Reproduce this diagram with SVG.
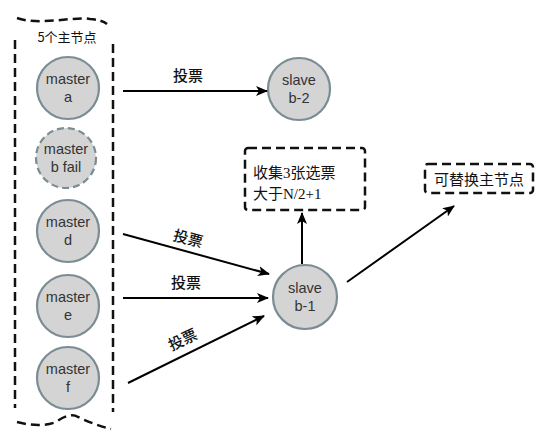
<svg xmlns="http://www.w3.org/2000/svg" width="551" height="440" viewBox="0 0 551 440">
<defs>
<marker id="arr" viewBox="0 0 12 10" refX="11" refY="5" markerWidth="12" markerHeight="10" markerUnits="userSpaceOnUse" orient="auto">
<path d="M0,0 L12,5 L0,10 L3,5 Z" fill="#000"/>
</marker>
<style>
.node circle{fill:#d4d4d4;stroke:#7b8c93;stroke-width:2.2}
.node text{font-family:"Liberation Sans",Arial,sans-serif;font-size:14.5px;fill:#333;text-anchor:middle}
.dash{fill:none;stroke:#111;stroke-width:2.5;stroke-dasharray:9 5}
.lbl{font-family:"Noto Sans CJK SC",sans-serif;font-size:15px;font-weight:500;fill:#111;text-anchor:middle}
.note{font-family:"Liberation Serif","Noto Sans CJK SC",serif;font-size:15px;fill:#111}
.edge{stroke:#000;stroke-width:2;fill:none;marker-end:url(#arr)}
</style>
</defs>
<rect width="551" height="440" fill="#fff"/>
<g id="group-masters">
<path class="dash" d="M17,18 C40,26 75,16 90,19 Q102,20 107,24"/>
<path class="dash" d="M15,40 L15,408"/>
<path class="dash" d="M113,44 L113,412"/>
<path class="dash" d="M17,422 Q40,428 56,422 Q70,412 78,417 Q95,425 111,429"/>
<text x="67" y="42" style="font-family:'Noto Sans CJK SC',sans-serif;font-size:13px;fill:#111;text-anchor:middle">5个主节点</text>
</g>
<g id="master-a" class="node"><circle cx="68" cy="88" r="31"/><text x="68" y="84">master</text><text x="68" y="102">a</text></g>
<g id="master-b" class="node"><circle cx="66" cy="158" r="30" style="stroke-dasharray:7 4"/><text x="66" y="154">master</text><text x="66" y="172">b fail</text></g>
<g id="master-d" class="node"><circle cx="68" cy="231" r="31"/><text x="68" y="227">master</text><text x="68" y="245">d</text></g>
<g id="master-e" class="node"><circle cx="68" cy="306" r="31"/><text x="68" y="302">master</text><text x="68" y="320">e</text></g>
<g id="master-f" class="node"><circle cx="68" cy="378" r="31"/><text x="68" y="374">master</text><text x="68" y="392">f</text></g>
<g id="slave-b2" class="node"><circle cx="299" cy="89" r="31"/><text x="299" y="85">slave</text><text x="299" y="103">b-2</text></g>
<g id="slave-b1" class="node"><circle cx="305" cy="297" r="32"/><text x="305" y="293">slave</text><text x="305" y="311">b-1</text></g>
<g id="note-votes">
<rect class="dash" x="245" y="148" width="120" height="62" rx="3"/>
<text class="note" x="253" y="178">收集3张选票</text>
<text class="note" x="253" y="199">大于N/2+1</text>
</g>
<g id="note-replace">
<rect class="dash" x="425" y="164" width="108" height="29" rx="3"/>
<text x="479" y="185" style="font-family:'Noto Sans CJK SC',sans-serif;font-size:15px;fill:#111;text-anchor:middle">可替换主节点</text>
</g>
<g id="connectors">
<line class="edge" x1="123" y1="91" x2="267" y2="91"/>
<text class="lbl" x="188" y="81">投票</text>
<line class="edge" x1="123" y1="234" x2="269" y2="274"/>
<text class="lbl" x="188" y="244" transform="rotate(15 188 239)">投票</text>
<line class="edge" x1="123" y1="298" x2="268" y2="298"/>
<text class="lbl" x="186" y="288">投票</text>
<line class="edge" x1="128" y1="383" x2="264" y2="316"/>
<text class="lbl" x="183" y="345" transform="rotate(-25 183 340)">投票</text>
<line class="edge" x1="302" y1="264" x2="302" y2="213"/>
<line class="edge" x1="347" y1="282" x2="454" y2="206"/>
</g>
</svg>
